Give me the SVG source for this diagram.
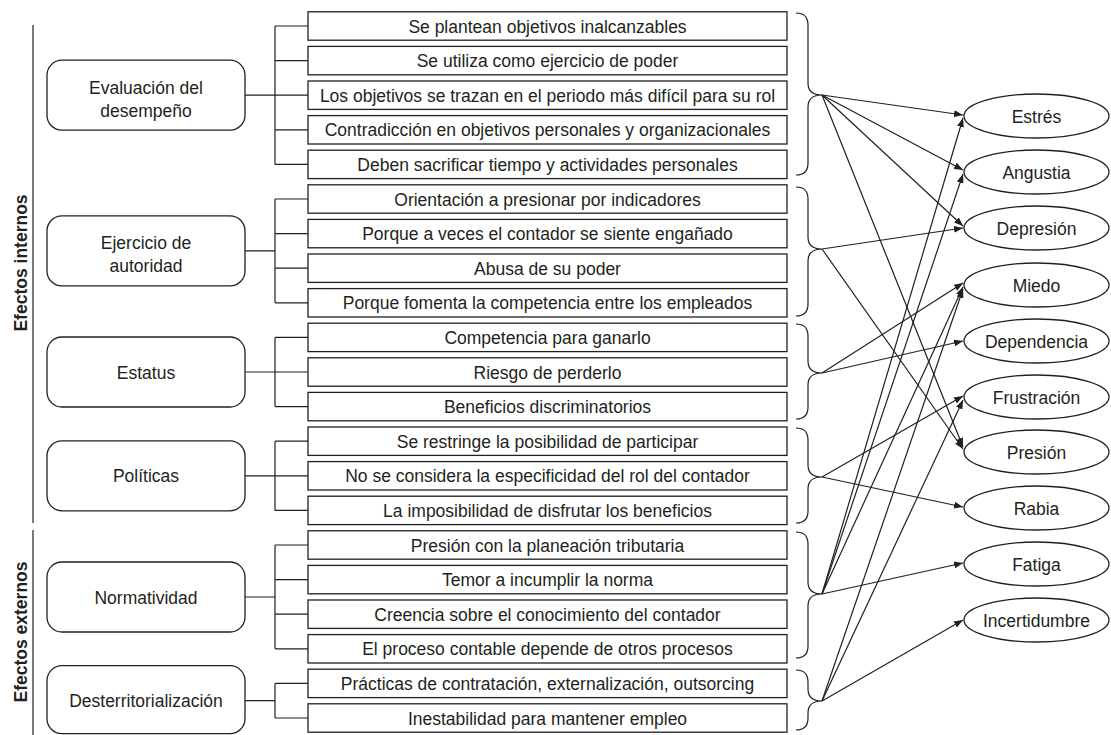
<svg xmlns="http://www.w3.org/2000/svg" width="1111" height="735" viewBox="0 0 1111 735">
<style>
  .box{fill:#fff;stroke:#231f20;stroke-width:1.3}
  .node{fill:#fff;stroke:#231f20;stroke-width:1.3}
  .t{font-family:"Liberation Sans",Arial,sans-serif;font-size:17.5px;fill:#231f20;text-anchor:middle}
  .side{font-family:"Liberation Sans",Arial,sans-serif;font-size:17.5px;font-weight:bold;fill:#231f20;text-anchor:middle}
  .ln{fill:none;stroke:#231f20;stroke-width:1.2}
  .ar{fill:none;stroke:#231f20;stroke-width:1.2;marker-end:url(#ah)}
</style>
<defs>
  <marker id="ah" markerUnits="userSpaceOnUse" markerWidth="9" markerHeight="7" refX="9" refY="3.5" orient="auto">
    <path d="M0,0 L9,3.5 L0,7 z" fill="#231f20"/>
  </marker>
</defs>
<rect width="1111" height="735" fill="#fff"/>

<g id="side-labels">
  <line class="ln" x1="33" y1="25" x2="33" y2="523"/>
  <line class="ln" x1="33" y1="530" x2="33" y2="735"/>
  <text class="side" transform="translate(27,263) rotate(-90)">Efectos internos</text>
  <text class="side" transform="translate(27,632) rotate(-90)">Efectos externos</text>
</g>

<g id="connectors">
  <!-- trees -->
  <path class="ln" d="M245,95.2H275M275,26V164.4M275,26H308M275,60.6H308M275,95.2H308M275,129.8H308M275,164.4H308"/>
  <path class="ln" d="M245,250.9H275M275,199V302.8M275,199H308M275,233.6H308M275,268.2H308M275,302.8H308"/>
  <path class="ln" d="M245,372H275M275,337.4V406.6M275,337.4H308M275,372H308M275,406.6H308"/>
  <path class="ln" d="M245,475.8H275M275,441.2V510.4M275,441.2H308M275,475.8H308M275,510.4H308"/>
  <path class="ln" d="M245,597H275M275,545V648.8M275,545H308M275,579.6H308M275,614.2H308M275,648.8H308"/>
  <path class="ln" d="M245,700.7H275M275,683.4V718M275,683.4H308M275,718H308"/>
  <!-- braces -->
  <path class="ln" d="M796,13Q808,13 808,25L808,83Q808,95 822,95Q808,95 808,107L808,163Q808,175 796,175"/>
  <path class="ln" d="M796,187Q808,187 808,199L808,237Q808,249 822,249Q808,249 808,261L808,304Q808,316 796,316"/>
  <path class="ln" d="M796,324Q808,324 808,336L808,361Q808,373 822,373Q808,373 808,385L808,407Q808,419 796,419"/>
  <path class="ln" d="M796,428Q808,428 808,440L808,465Q808,477 822,477Q808,477 808,489L808,511Q808,523 796,523"/>
  <path class="ln" d="M796,532Q808,532 808,544L808,582Q808,594 822,594Q808,594 808,606L808,646Q808,658 796,658"/>
  <path class="ln" d="M796,670Q808,670 808,682L808,689Q808,701 822,701Q808,701 808,713L808,718Q808,730 796,730"/>
  <!-- arrows -->
  <line class="ar" x1="822" y1="95" x2="963" y2="115"/>
  <line class="ar" x1="822" y1="95" x2="963" y2="170"/>
  <line class="ar" x1="822" y1="95" x2="963" y2="226"/>
  <line class="ar" x1="822" y1="95" x2="963" y2="447"/>
  <line class="ar" x1="822" y1="249" x2="963" y2="228"/>
  <line class="ar" x1="822" y1="249" x2="963" y2="449"/>
  <line class="ar" x1="822" y1="373" x2="963" y2="283"/>
  <line class="ar" x1="822" y1="373" x2="963" y2="341"/>
  <line class="ar" x1="822" y1="477" x2="963" y2="396"/>
  <line class="ar" x1="822" y1="477" x2="963" y2="507"/>
  <line class="ar" x1="822" y1="594" x2="963" y2="118"/>
  <line class="ar" x1="822" y1="594" x2="963" y2="174"/>
  <line class="ar" x1="822" y1="594" x2="963" y2="287"/>
  <line class="ar" x1="822" y1="594" x2="963" y2="563"/>
  <line class="ar" x1="822" y1="701" x2="963" y2="289"/>
  <line class="ar" x1="822" y1="701" x2="963" y2="400"/>
  <line class="ar" x1="822" y1="701" x2="963" y2="620"/>
</g>

<g id="n-evaluacion"><rect class="node" x="47" y="60.2" width="198" height="70" rx="15"/><text class="t" x="146" y="94">Evaluación del</text><text class="t" x="146" y="117">desempeño</text></g>
<g id="n-ejercicio"><rect class="node" x="47" y="215.9" width="198" height="70" rx="15"/><text class="t" x="146" y="249">Ejercicio de</text><text class="t" x="146" y="272">autoridad</text></g>
<g id="n-estatus"><rect class="node" x="47" y="337" width="198" height="70" rx="15"/><text class="t" x="146" y="378.5">Estatus</text></g>
<g id="n-politicas"><rect class="node" x="47" y="440.8" width="198" height="70" rx="15"/><text class="t" x="146" y="482.3">Políticas</text></g>
<g id="n-normatividad"><rect class="node" x="47" y="562" width="198" height="70" rx="15"/><text class="t" x="146" y="603.5">Normatividad</text></g>
<g id="n-desterritorializacion"><rect class="node" x="47" y="665.7" width="198" height="68" rx="15"/><text class="t" x="146" y="707">Desterritorialización</text></g>

<g id="r0"><rect class="box" x="308" y="11.8" width="479" height="28.4"/><text class="t" x="547.5" y="32.5">Se plantean objetivos inalcanzables</text></g>
<g id="r1"><rect class="box" x="308" y="46.4" width="479" height="28.4"/><text class="t" x="547.5" y="67.1">Se utiliza como ejercicio de poder</text></g>
<g id="r2"><rect class="box" x="308" y="81" width="479" height="28.4"/><text class="t" x="547.5" y="101.7">Los objetivos se trazan en el periodo más difícil para su rol</text></g>
<g id="r3"><rect class="box" x="308" y="115.6" width="479" height="28.4"/><text class="t" x="547.5" y="136.3">Contradicción en objetivos personales y organizacionales</text></g>
<g id="r4"><rect class="box" x="308" y="150.2" width="479" height="28.4"/><text class="t" x="547.5" y="170.9">Deben sacrificar tiempo y actividades personales</text></g>
<g id="r5"><rect class="box" x="308" y="184.8" width="479" height="28.4"/><text class="t" x="547.5" y="205.5">Orientación a presionar por indicadores</text></g>
<g id="r6"><rect class="box" x="308" y="219.4" width="479" height="28.4"/><text class="t" x="547.5" y="240.1">Porque a veces el contador se siente engañado</text></g>
<g id="r7"><rect class="box" x="308" y="254" width="479" height="28.4"/><text class="t" x="547.5" y="274.7">Abusa de su poder</text></g>
<g id="r8"><rect class="box" x="308" y="288.6" width="479" height="28.4"/><text class="t" x="547.5" y="309.3">Porque fomenta la competencia entre los empleados</text></g>
<g id="r9"><rect class="box" x="308" y="323.2" width="479" height="28.4"/><text class="t" x="547.5" y="343.9">Competencia para ganarlo</text></g>
<g id="r10"><rect class="box" x="308" y="357.8" width="479" height="28.4"/><text class="t" x="547.5" y="378.5">Riesgo de perderlo</text></g>
<g id="r11"><rect class="box" x="308" y="392.4" width="479" height="28.4"/><text class="t" x="547.5" y="413.1">Beneficios discriminatorios</text></g>
<g id="r12"><rect class="box" x="308" y="427" width="479" height="28.4"/><text class="t" x="547.5" y="447.7">Se restringe la posibilidad de participar</text></g>
<g id="r13"><rect class="box" x="308" y="461.6" width="479" height="28.4"/><text class="t" x="547.5" y="482.3">No se considera la especificidad del rol del contador</text></g>
<g id="r14"><rect class="box" x="308" y="496.2" width="479" height="28.4"/><text class="t" x="547.5" y="516.9">La imposibilidad de disfrutar los beneficios</text></g>
<g id="r15"><rect class="box" x="308" y="530.8" width="479" height="28.4"/><text class="t" x="547.5" y="551.5">Presión con la planeación tributaria</text></g>
<g id="r16"><rect class="box" x="308" y="565.4" width="479" height="28.4"/><text class="t" x="547.5" y="586.1">Temor a incumplir la norma</text></g>
<g id="r17"><rect class="box" x="308" y="600" width="479" height="28.4"/><text class="t" x="547.5" y="620.7">Creencia sobre el conocimiento del contador</text></g>
<g id="r18"><rect class="box" x="308" y="634.6" width="479" height="28.4"/><text class="t" x="547.5" y="655.3">El proceso contable depende de otros procesos</text></g>
<g id="r19"><rect class="box" x="308" y="669.2" width="479" height="28.4"/><text class="t" x="547.5" y="689.9">Prácticas de contratación, externalización, outsorcing</text></g>
<g id="r20"><rect class="box" x="308" y="703.8" width="479" height="28.4"/><text class="t" x="547.5" y="724.5">Inestabilidad para mantener empleo</text></g>

<g id="e-estres"><ellipse class="node" cx="1036.5" cy="116" rx="72.5" ry="22"/><text class="t" x="1036.5" y="122.5">Estrés</text></g>
<g id="e-angustia"><ellipse class="node" cx="1036.5" cy="172" rx="72.5" ry="22"/><text class="t" x="1036.5" y="178.5">Angustia</text></g>
<g id="e-depresion"><ellipse class="node" cx="1036.5" cy="228" rx="72.5" ry="22"/><text class="t" x="1036.5" y="234.5">Depresión</text></g>
<g id="e-miedo"><ellipse class="node" cx="1036.5" cy="285" rx="72.5" ry="22"/><text class="t" x="1036.5" y="291.5">Miedo</text></g>
<g id="e-dependencia"><ellipse class="node" cx="1036.5" cy="341" rx="72.5" ry="22"/><text class="t" x="1036.5" y="347.5">Dependencia</text></g>
<g id="e-frustracion"><ellipse class="node" cx="1036.5" cy="397" rx="72.5" ry="22"/><text class="t" x="1036.5" y="403.5">Frustración</text></g>
<g id="e-presion"><ellipse class="node" cx="1036.5" cy="452" rx="72.5" ry="22"/><text class="t" x="1036.5" y="458.5">Presión</text></g>
<g id="e-rabia"><ellipse class="node" cx="1036.5" cy="508" rx="72.5" ry="22"/><text class="t" x="1036.5" y="514.5">Rabia</text></g>
<g id="e-fatiga"><ellipse class="node" cx="1036.5" cy="564" rx="72.5" ry="22"/><text class="t" x="1036.5" y="570.5">Fatiga</text></g>
<g id="e-incertidumbre"><ellipse class="node" cx="1036.5" cy="620" rx="72.5" ry="22"/><text class="t" x="1036.5" y="626.5">Incertidumbre</text></g>
</svg>
